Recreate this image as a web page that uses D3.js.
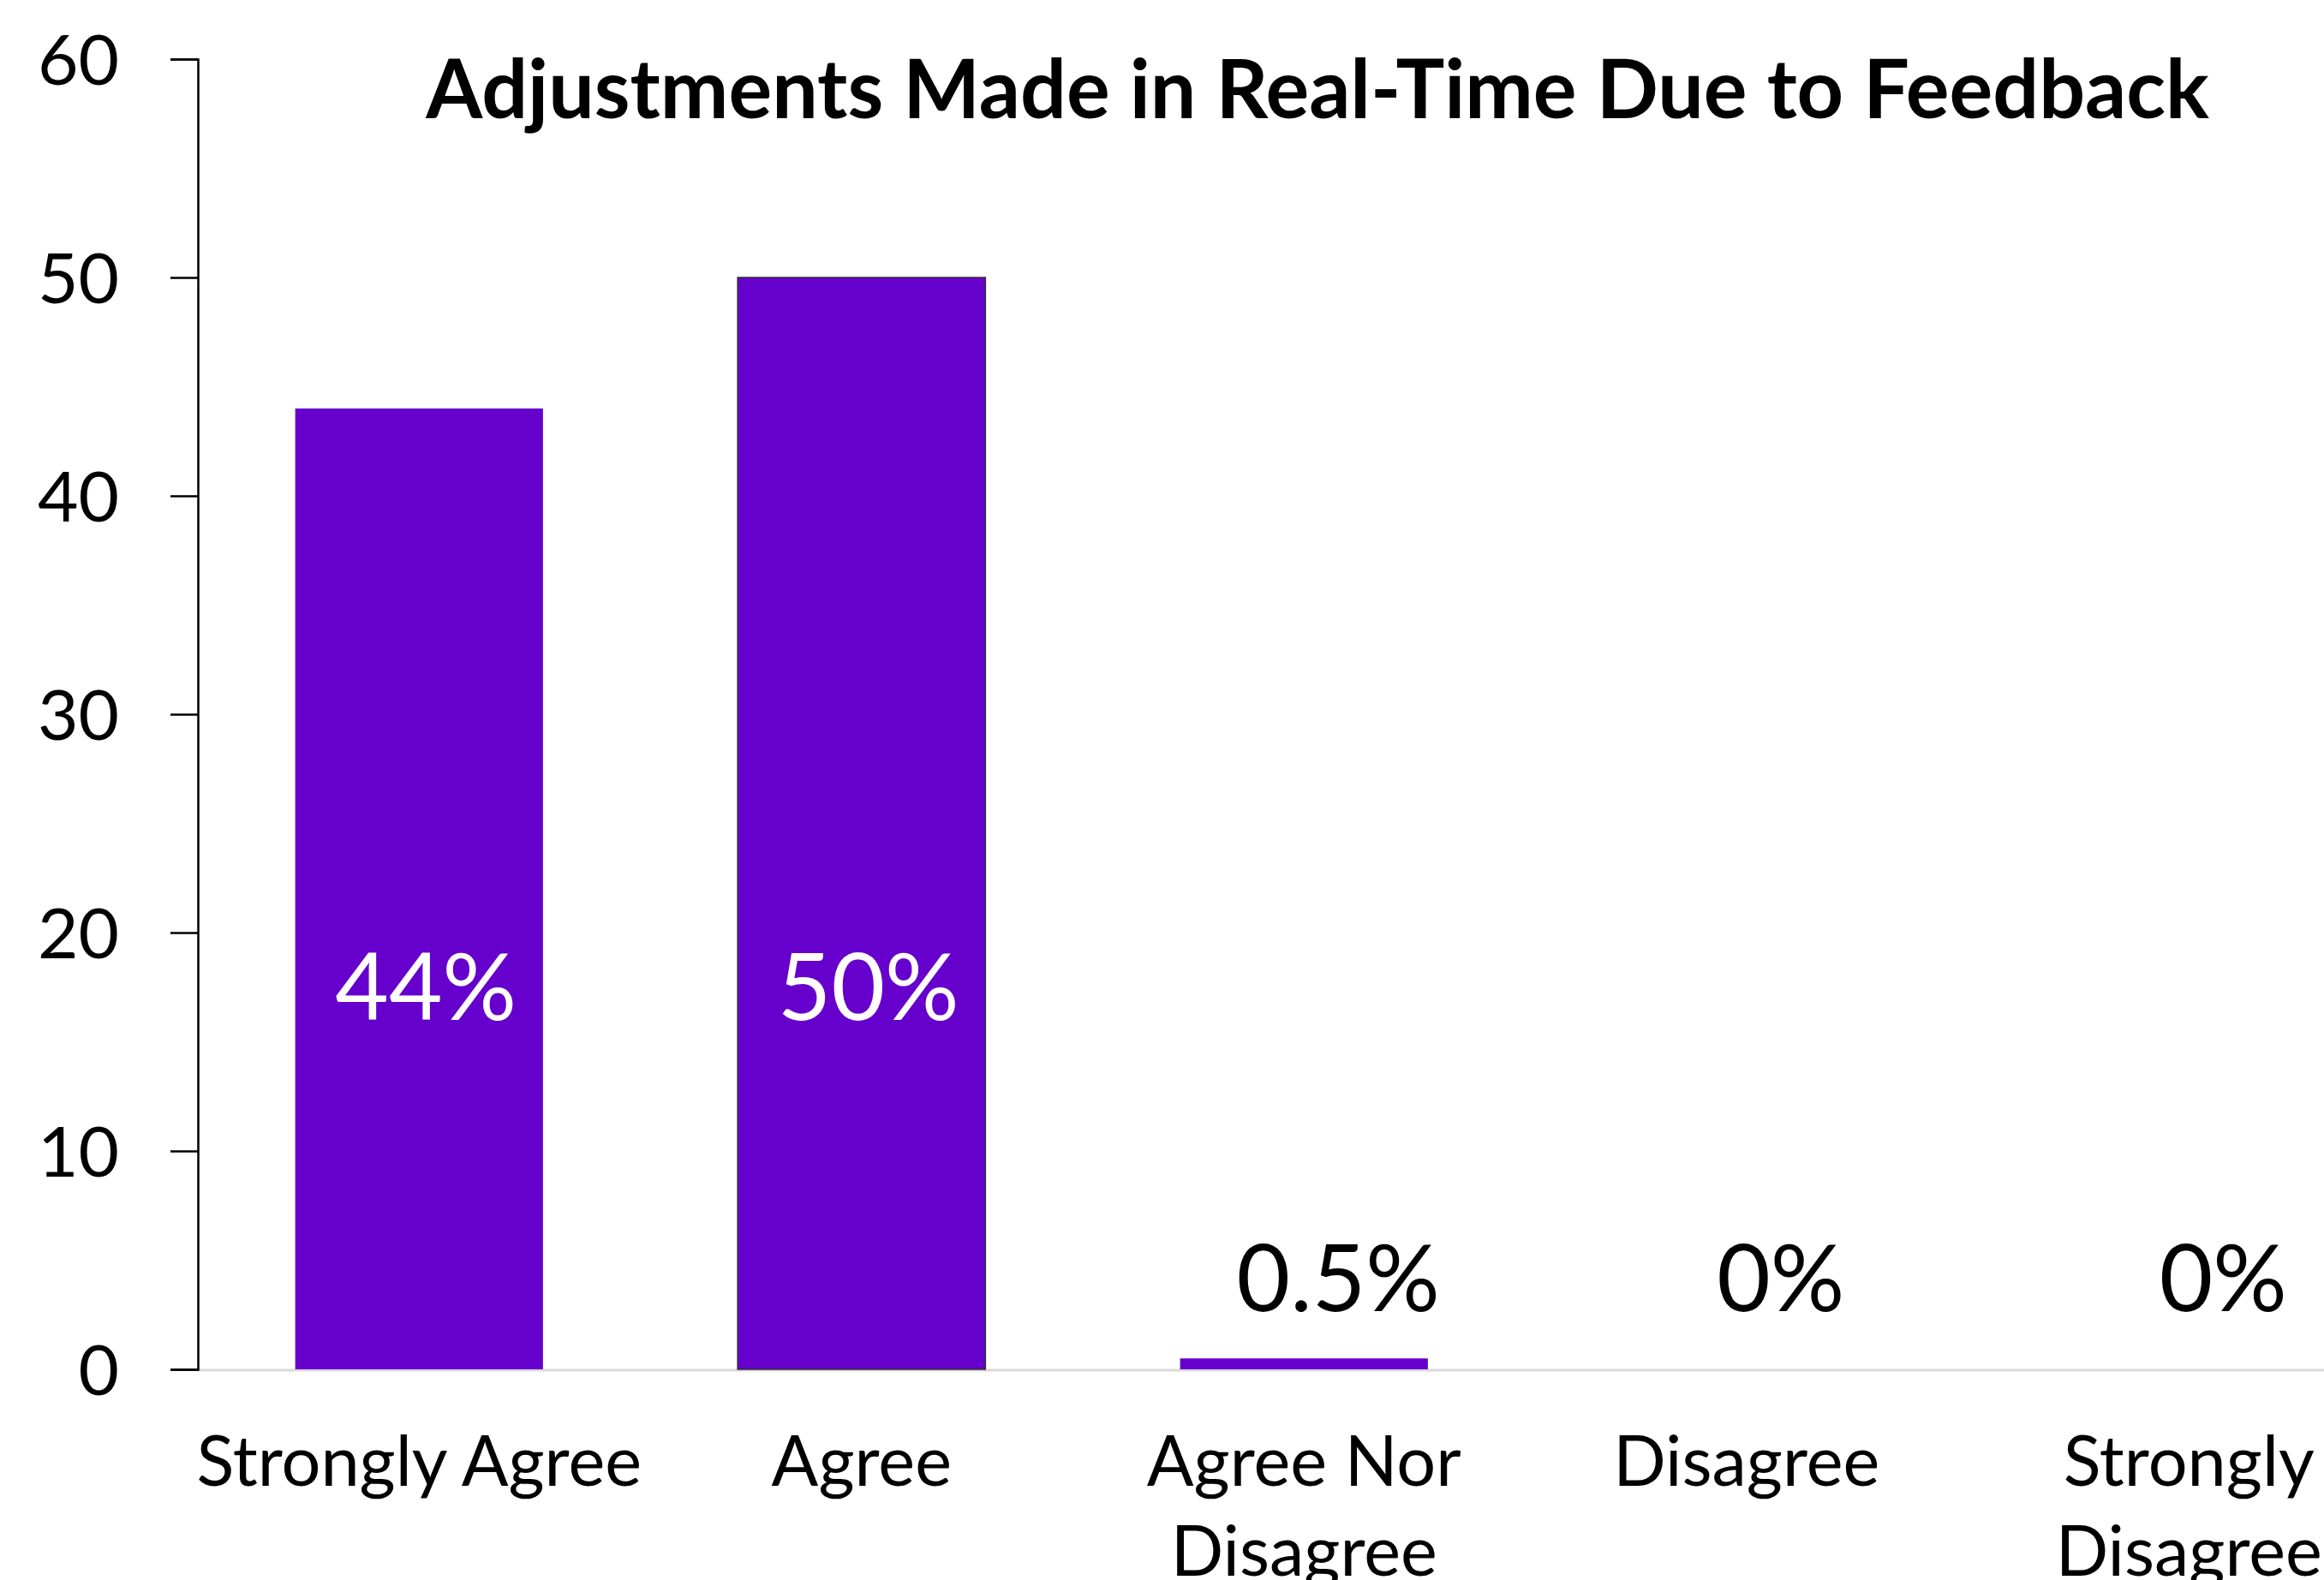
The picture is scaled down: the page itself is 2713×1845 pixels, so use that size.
<!DOCTYPE html>
<html>
<head>
<meta charset="utf-8">
<script src="https://cdn.jsdelivr.net/npm/d3@7"></script>
<style>
	body { margin: 0; background: #fff; overflow: hidden; }
	text { font-family: Lato, "Open Sans", sans-serif; }
</style>
</head>
<body>
<div id="chart"></div>
<script>
var categories = ["Strongly Agree", "Agree", "Agree Nor Disagree", "Disagree", "Strongly Disagree"];
var values = [44, 50, 0.5, 0, 0];
var valueLabels = ["44%", "50%", "0.5%", "0%", "0%"];
var yTicks = [0, 10, 20, 30, 40, 50, 60];
var title = "Adjustments Made in Real-Time Due to Feedback";

(function() {
	var width = 2713,
		height = 1845,
		plotLeft = 231,
		plotTop = 69,
		plotBottom = 1599;

	var svg = d3.select("#chart")
		.append("svg")
		.attr("width", width)
		.attr("height", height);

	var x = d3.scaleBand()
		.domain(categories)
		.range([plotLeft, plotLeft + 5 * 516.5])
		.paddingInner(0.44)
		.paddingOuter(0.22);

	var y = d3.scaleLinear()
		.domain([0, 60])
		.range([plotBottom, plotTop]);

	// baseline
	svg.append("line")
		.attr("x1", plotLeft)
		.attr("x2", width)
		.attr("y1", y(0) + 1)
		.attr("y2", y(0) + 1)
		.style("stroke", "#d9d9d9")
		.style("stroke-width", 3);

	// bars
	svg.selectAll("rect.bar")
		.data(values)
		.enter().append("rect")
		.attr("class", "bar")
		.attr("x", function(d, i) { return x(categories[i]); })
		.attr("y", function(d) { return y(d); })
		.attr("width", x.bandwidth())
		.attr("height", function(d) { return y(0) - y(d); })
		.style("fill", "#6600cc")
		.style("stroke", function(d, i) { return i === 1 ? "#333" : "none"; })
		.style("stroke-width", 1.5);

	// y axis
	var yAxis = svg.append("g")
		.attr("transform", "translate(" + plotLeft + ",0)")
		.call(d3.axisLeft(y).tickValues(yTicks).tickSize(32).tickSizeOuter(32).tickPadding(60));

	yAxis.select(".domain").style("stroke", "#000").style("stroke-width", 2.5);
	yAxis.selectAll(".tick line").style("stroke", "#000").style("stroke-width", 2.5);
	yAxis.selectAll(".tick text")
		.style("font-size", "82px")
		.style("fill", "#000")
		.attr("dy", "0.36em")
		.style("font-family", "Lato, sans-serif");

	// value labels
	svg.selectAll("text.val")
		.data(values)
		.enter().append("text")
		.attr("class", "val")
		.attr("x", function(d, i) {
			var c = x(categories[i]) + x.bandwidth() / 2;
			return d > 5 ? c + 8 : c + 40;
		})
		.attr("y", function(d) { return d > 5 ? y(16) : y(0) - 68; })
		.attr("text-anchor", "middle")
		.style("font-size", "108px")
		.style("fill", function(d) { return d > 5 ? "#fff" : "#000"; })
		.text(function(d, i) { return valueLabels[i]; });

	// category labels, wrapped
	var maxW = 600;
	svg.selectAll("text.cat")
		.data(categories)
		.enter().append("text")
		.attr("class", "cat")
		.attr("text-anchor", "middle")
		.style("font-size", "81px")
		.style("fill", "#000")
		.each(function(d) {
			var el = d3.select(this),
				cx = x(d) + x.bandwidth() / 2,
				words = d.split(" "),
				lines = [],
				line = [];
			var probe = el.append("tspan");
			words.forEach(function(w) {
				line.push(w);
				probe.text(line.join(" "));
				if (probe.node().getComputedTextLength() > maxW && line.length > 1) {
					line.pop();
					lines.push(line.join(" "));
					line = [w];
				}
			});
			lines.push(line.join(" "));
			probe.remove();
			lines.forEach(function(l, k) {
				el.append("tspan")
					.attr("x", cx)
					.attr("y", 1735 + k * 105)
					.text(l);
			});
		});

	// title
	svg.append("text")
		.attr("x", 1538)
		.attr("y", 138)
		.attr("text-anchor", "middle")
		.style("font-size", "95px")
		.style("font-weight", "bold")
		.style("fill", "#000")
		.text(title);
})();
</script>
</body>
</html>
